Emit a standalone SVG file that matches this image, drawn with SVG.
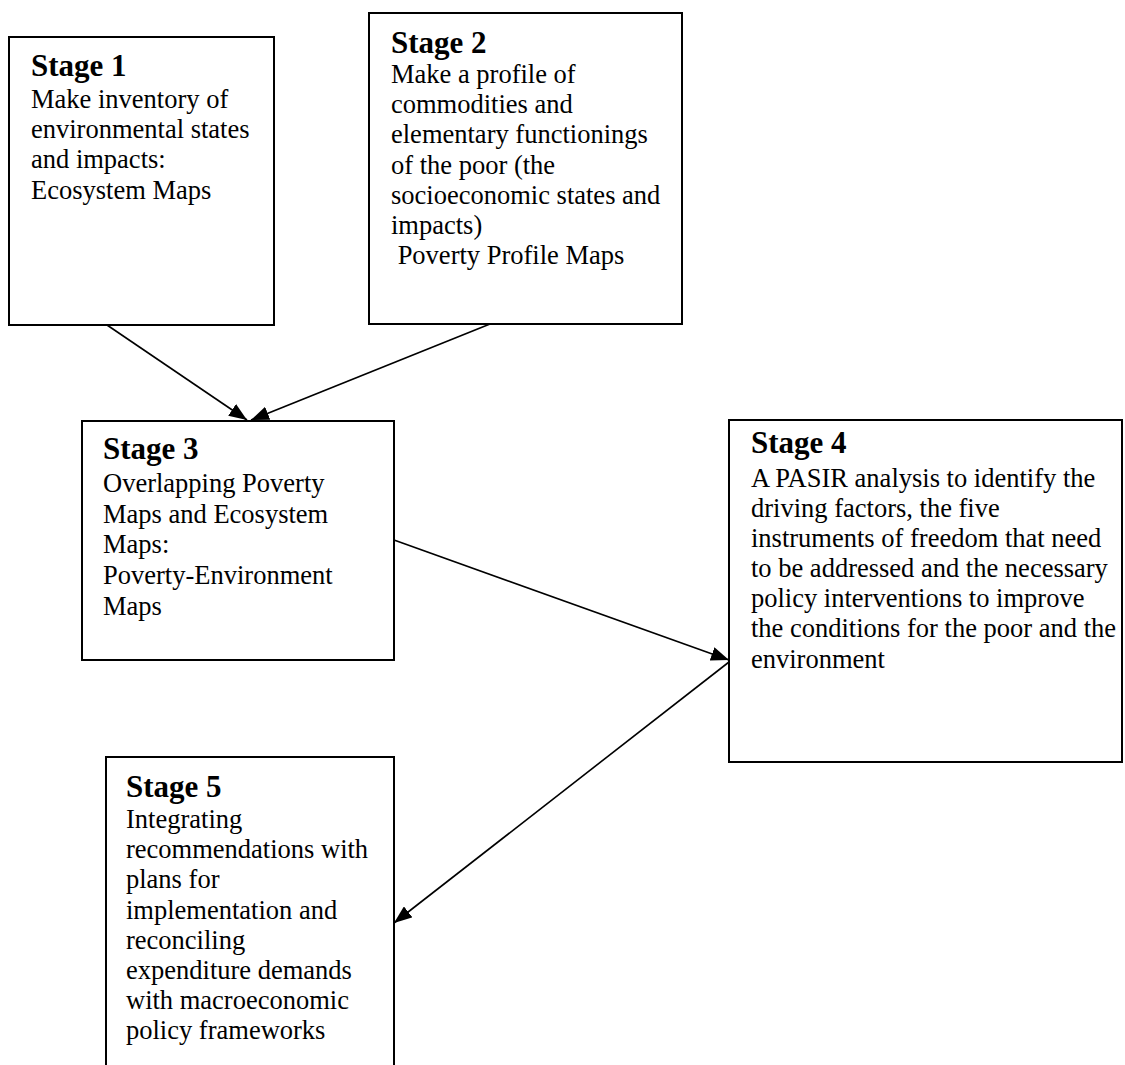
<svg xmlns="http://www.w3.org/2000/svg" width="1125" height="1065" viewBox="0 0 1125 1065">
<style>
.box{fill:#fff;stroke:#000;stroke-width:2}
.h{font-family:"Liberation Serif","Times New Roman",serif;font-weight:bold;font-size:31px;fill:#000}
.t{font-family:"Liberation Serif","Times New Roman",serif;font-size:26.5px;fill:#000}
.c{stroke:#000;stroke-width:1.6;fill:none;marker-end:url(#ah)}
</style>
<defs>
<marker id="ah" viewBox="0 0 18 14" refX="18" refY="7" markerWidth="18" markerHeight="14" markerUnits="userSpaceOnUse" orient="auto">
<path d="M0,0 L18,7 L0,14 z" fill="#000"/>
</marker>
</defs>
<g id="stage1">
<rect class="box" x="9" y="37" width="265" height="288"/>
<text class="h" x="31" y="76">Stage 1</text>
<text class="t" x="31" y="108">Make inventory of</text>
<text class="t" x="31" y="138">environmental states</text>
<text class="t" x="31" y="168">and impacts:</text>
<text class="t" x="31" y="199">Ecosystem Maps</text>
</g>
<g id="stage2">
<rect class="box" x="369" y="13" width="313" height="311"/>
<text class="h" x="391" y="53">Stage 2</text>
<text class="t" x="391" y="83">Make a profile of</text>
<text class="t" x="391" y="113">commodities and</text>
<text class="t" x="391" y="143">elementary functionings</text>
<text class="t" x="391" y="174">of the poor (the</text>
<text class="t" x="391" y="204">socioeconomic states and</text>
<text class="t" x="391" y="234">impacts)</text>
<text class="t" x="391" y="264" xml:space="preserve"> Poverty Profile Maps</text>
</g>
<g id="stage3">
<rect class="box" x="82" y="421" width="312" height="239"/>
<text class="h" x="103" y="459">Stage 3</text>
<text class="t" x="103" y="492">Overlapping Poverty</text>
<text class="t" x="103" y="523">Maps and Ecosystem</text>
<text class="t" x="103" y="553">Maps:</text>
<text class="t" x="103" y="584">Poverty-Environment</text>
<text class="t" x="103" y="615">Maps</text>
</g>
<g id="stage4">
<rect class="box" x="729" y="420" width="393" height="342"/>
<text class="h" x="751" y="453">Stage 4</text>
<text class="t" x="751" y="487">A PASIR analysis to identify the</text>
<text class="t" x="751" y="517">driving factors, the five</text>
<text class="t" x="751" y="547">instruments of freedom that need</text>
<text class="t" x="751" y="577">to be addressed and the necessary</text>
<text class="t" x="751" y="607">policy interventions to improve</text>
<text class="t" x="751" y="637">the conditions for the poor and the</text>
<text class="t" x="751" y="668">environment</text>
</g>
<g id="stage5">
<rect class="box" x="106" y="757" width="288" height="320"/>
<text class="h" x="126" y="797">Stage 5</text>
<text class="t" x="126" y="828">Integrating</text>
<text class="t" x="126" y="858">recommendations with</text>
<text class="t" x="126" y="888">plans for</text>
<text class="t" x="126" y="919">implementation and</text>
<text class="t" x="126" y="949">reconciling</text>
<text class="t" x="126" y="979">expenditure demands</text>
<text class="t" x="126" y="1009">with macroeconomic</text>
<text class="t" x="126" y="1039">policy frameworks</text>
</g>
<g id="connectors">
<line class="c" x1="107" y1="325" x2="247" y2="420"/>
<line class="c" x1="490" y1="324" x2="251" y2="420"/>
<line class="c" x1="394" y1="540" x2="729" y2="660"/>
<line class="c" x1="729" y1="662" x2="394" y2="923"/>
</g>
</svg>
